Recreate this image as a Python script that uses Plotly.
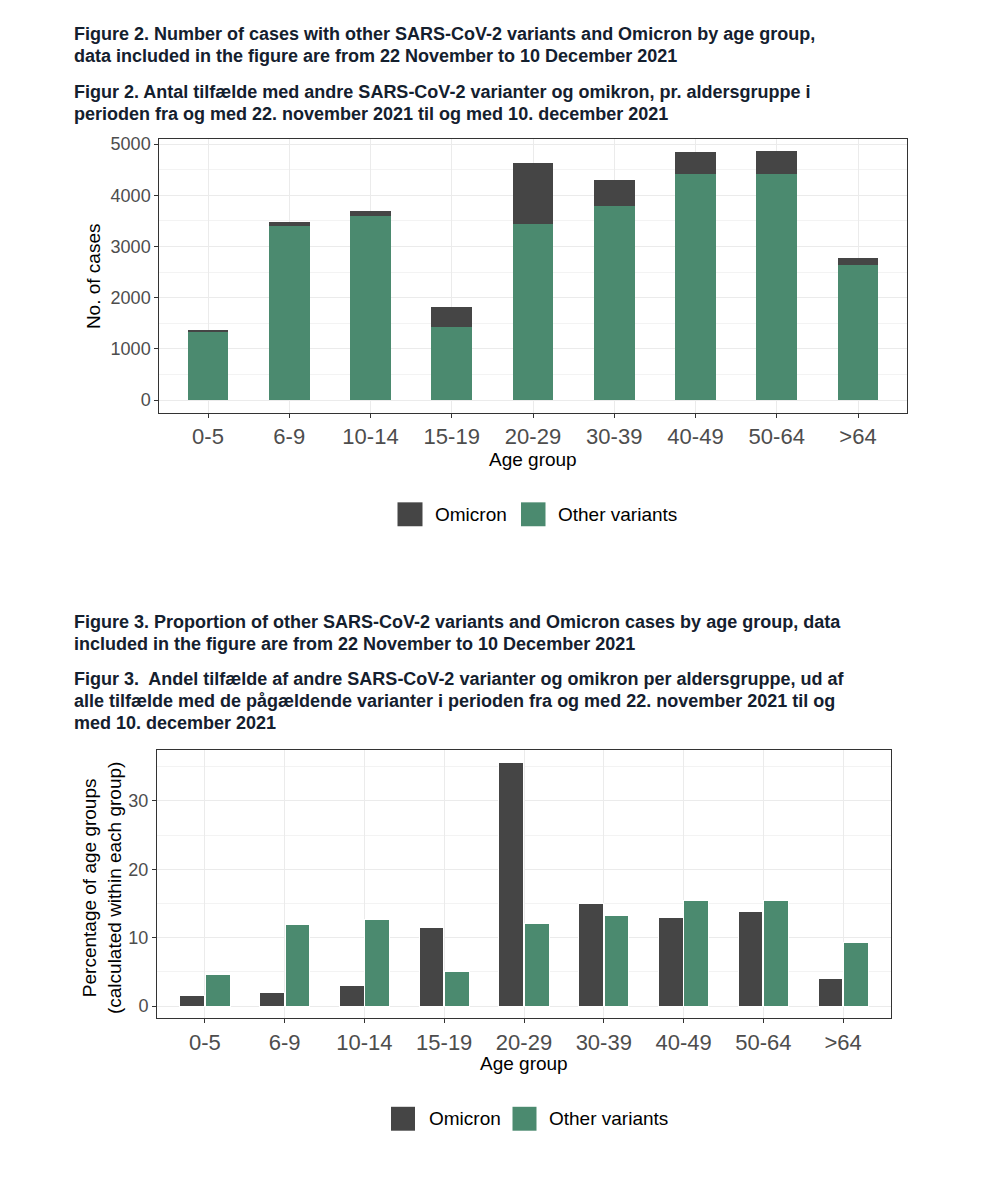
import plotly.graph_objects as go

# ---------------- data ----------------
age_groups = ["0-5", "6-9", "10-14", "15-19", "20-29", "30-39", "40-49", "50-64", ">64"]

# Figure 2: number of cases (stacked)
cases_other = [1340, 3405, 3590, 1425, 3435, 3795, 4420, 4410, 2630]
cases_omicron = [40, 65, 100, 385, 1190, 500, 430, 455, 145]

# Figure 3: percentage of age groups (dodged)
pct_omicron = [1.6, 1.95, 3.0, 11.56, 35.6, 15.0, 12.9, 13.9, 4.0]
pct_other = [4.65, 12.0, 12.6, 5.0, 12.1, 13.25, 15.4, 15.4, 9.3]

series_names = ["Omicron", "Other variants"]

title_lines_fig2 = [
    "Figure 2. Number of cases with other SARS-CoV-2 variants and Omicron by age group,",
    "data included in the figure are from 22 November to 10 December 2021",
    "Figur 2. Antal tilfælde med andre SARS-CoV-2 varianter og omikron, pr. aldersgruppe i",
    "perioden fra og med 22. november 2021 til og med 10. december 2021",
]
title_lines_fig3 = [
    "Figure 3. Proportion of other SARS-CoV-2 variants and Omicron cases by age group, data",
    "included in the figure are from 22 November to 10 December 2021",
    "Figur 3.  Andel tilfælde af andre SARS-CoV-2 varianter og omikron per aldersgruppe, ud af",
    "alle tilfælde med de pågældende varianter i perioden fra og med 22. november 2021 til og",
    "med 10. december 2021",
]

# ---------------- style ----------------
PAGE_MARGIN = 8          # default body margin of the html page
W, H = 1006 - 2 * PAGE_MARGIN, 1200 - 2 * PAGE_MARGIN
C_OMI = "#454545"
C_OTH = "#4b8a6f"
FONT = "Liberation Sans, Arial, sans-serif"
TITLE_COLOR = "#14202e"

def px_x(x):
    return (x - PAGE_MARGIN) / W

def px_y(y):
    return 1 - (y - PAGE_MARGIN) / H

fig = go.Figure()

# Figure 2 (stacked)
fig.add_trace(go.Bar(x=age_groups, y=cases_other, name=series_names[1],
                     marker=dict(color=C_OTH, line=dict(width=0)), width=0.5,
                     xaxis="x", yaxis="y", offsetgroup="stack", showlegend=False))
fig.add_trace(go.Bar(x=age_groups, y=cases_omicron, name=series_names[0],
                     marker=dict(color=C_OMI, line=dict(width=0)), width=0.5,
                     xaxis="x", yaxis="y", offsetgroup="stack", showlegend=False))

# Figure 3 (dodged, side by side: separate offset groups)
fig.add_trace(go.Bar(x=age_groups, y=pct_omicron, name=series_names[0],
                     marker=dict(color=C_OMI, line=dict(width=1, color="white")),
                     width=0.31, offset=-0.315,
                     xaxis="x2", yaxis="y2", offsetgroup="omi", showlegend=False))
fig.add_trace(go.Bar(x=age_groups, y=pct_other, name=series_names[1],
                     marker=dict(color=C_OTH, line=dict(width=1, color="white")),
                     width=0.31, offset=0.005,
                     xaxis="x2", yaxis="y2", offsetgroup="oth", showlegend=False))

axis_common = dict(
    showline=True, mirror=True, linecolor="#333333", linewidth=1,
    ticks="outside", ticklen=4, tickcolor="#333333", tickwidth=1,
    showgrid=True, gridcolor="#ebebeb", gridwidth=1, zeroline=False,
)

top_max = max(o + m for o, m in zip(cases_other, cases_omicron))
bot_max = max(max(pct_omicron), max(pct_other))

fig.update_layout(
    width=W, height=H,
    margin=dict(l=0, r=0, t=0, b=0),
    paper_bgcolor="white", plot_bgcolor="white",
    barmode="stack",
    font=dict(family=FONT, color="#000000"),
    xaxis=dict(domain=[px_x(159.25), px_x(906.75)], anchor="y",
               range=[-0.6, len(age_groups) - 0.4], type="category",
               tickfont=dict(size=22, color="#4d4d4d"), **axis_common),
    yaxis=dict(domain=[px_y(410), px_y(135)], anchor="x",
               range=[-0.05 * top_max, 1.05 * top_max],
               tickvals=[0, 1000, 2000, 3000, 4000, 5000],
               tickfont=dict(size=18, color="#4d4d4d"),
               minor=dict(dtick=500, tick0=0, showgrid=True, gridcolor="#f3f3f3", gridwidth=0.6, ticks=""),
               **axis_common),
    xaxis2=dict(domain=[px_x(157), px_x(891)], anchor="y2",
                range=[-0.6, len(age_groups) - 0.4], type="category",
                tickfont=dict(size=22, color="#4d4d4d"), **axis_common),
    yaxis2=dict(domain=[px_y(1017.7), px_y(749)], anchor="x2",
                range=[-0.05 * bot_max, 1.05 * bot_max],
                tickvals=[0, 10, 20, 30],
                tickfont=dict(size=18, color="#4d4d4d"),
                minor=dict(dtick=5, tick0=0, showgrid=True, gridcolor="#f3f3f3", gridwidth=0.6, ticks=""),
                **axis_common),
)

annotations = []

def title_line(text, y):
    annotations.append(dict(text="<b>%s</b>" % text, x=px_x(72), y=px_y(y), xref="paper", yref="paper",
                            xanchor="left", yanchor="middle", showarrow=False,
                            font=dict(size=18, color=TITLE_COLOR, family=FONT)))

for text, y in zip(title_lines_fig2, [30, 52, 88, 110]):
    title_line(text, y)
for text, y in zip(title_lines_fig3, [620, 642, 677, 699, 721]):
    title_line(text, y)

# axis titles
annotations.append(dict(text="Age group", x=px_x(533), y=px_y(457), xref="paper", yref="paper",
                        xanchor="center", yanchor="middle", showarrow=False, font=dict(size=19)))
annotations.append(dict(text="No. of cases", x=px_x(93), y=px_y(273), xref="paper", yref="paper",
                        xanchor="center", yanchor="middle", textangle=-90, showarrow=False, font=dict(size=19)))
annotations.append(dict(text="Age group", x=px_x(524), y=px_y(1063), xref="paper", yref="paper",
                        xanchor="center", yanchor="middle", showarrow=False, font=dict(size=19)))
annotations.append(dict(text="Percentage of age groups<br>(calculated within each group)",
                        x=px_x(102), y=px_y(887), xref="paper", yref="paper",
                        xanchor="center", yanchor="middle", textangle=-90, showarrow=False,
                        font=dict(size=19)))

# legends (keys drawn as shapes, labels as text)
shapes = []

def legend(y_center, items):
    for (x0, x1, tx), name, col in zip(items, series_names, [C_OMI, C_OTH]):
        shapes.append(dict(type="rect", xref="paper", yref="paper",
                           x0=px_x(x0), x1=px_x(x1), y0=px_y(y_center + 12), y1=px_y(y_center - 12),
                           fillcolor=col, line=dict(width=0)))
        annotations.append(dict(text=name, x=px_x(tx), y=px_y(y_center), xref="paper", yref="paper",
                                xanchor="left", yanchor="middle", showarrow=False, font=dict(size=19)))

legend(512, [(397.5, 422.5, 433), (521, 545.5, 556)])
legend(1118.5, [(391, 415, 426.5), (512.5, 536.5, 546.5)])

fig.update_layout(annotations=annotations, shapes=shapes)

fig.write_html("out.html")
